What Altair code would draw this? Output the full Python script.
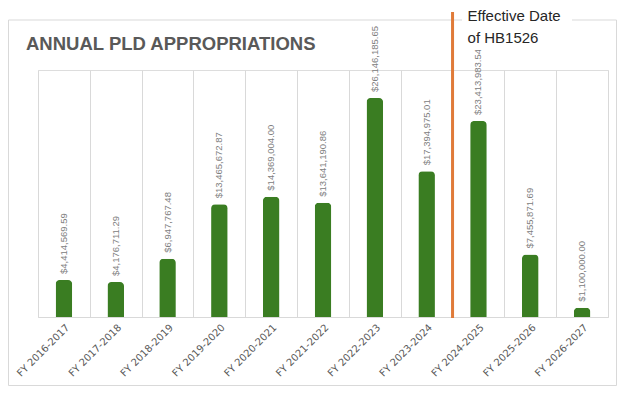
import altair as alt
import pandas as pd

categories = ["FY 2016-2017", "FY 2017-2018", "FY 2018-2019", "FY 2019-2020",
              "FY 2020-2021", "FY 2021-2022", "FY 2022-2023", "FY 2023-2024",
              "FY 2024-2025", "FY 2025-2026", "FY 2026-2027"]
amounts = [4414569.59, 4176711.29, 6947767.48, 13465672.87, 14369004.00,
           13641190.86, 26146185.65, 17394975.01, 23413983.54, 7455871.69,
           1100000.00]
title_text = "ANNUAL PLD APPROPRIATIONS"
marker_category = "FY 2024-2025"
marker_lines = ["Effective Date", "of HB1526"]

df = pd.DataFrame({"fy": categories, "amount": amounts})

xscale = alt.Scale(domain=categories, paddingInner=0, paddingOuter=0)
yscale = alt.Scale(domain=[0, 29500000], nice=False)

xenc = alt.X("fy:N", scale=xscale, sort=categories,
             axis=alt.Axis(title=None, ticks=False, grid=True, tickBand="extent",
                           gridColor="#d9d9d9", gridWidth=1,
                           domainColor="#d9d9d9", labelAngle=-45,
                           labelColor="#595959", labelFont="DejaVu Sans",
                           labelFontSize=10, labelPadding=5))

one = pd.DataFrame({"k": [0]})

border = alt.Chart(one).mark_rect(fill=None, stroke="#d9d9d9", strokeWidth=1).encode(
    x=alt.value(-29.5), x2=alt.value(578.5), y=alt.value(-50), y2=alt.value(315.5))

bars = alt.Chart(df).mark_bar(color="#3A7D22", cornerRadiusTopLeft=4,
                              cornerRadiusTopRight=4,
                              width=alt.RelativeBandSize(0.32)).encode(
    x=xenc,
    y=alt.Y("amount:Q", scale=yscale, axis=None),
)

labels = alt.Chart(df).transform_calculate(
    lab="'$' + format(datum.amount, ',.2f')"
).mark_text(angle=270, align="left", baseline="middle", dx=6,
            font="Liberation Sans", fontSize=9.5, color="#808080").encode(
    x=alt.X("fy:N", scale=xscale, sort=categories),
    y=alt.Y("amount:Q", scale=yscale, axis=None),
    text="lab:N",
)

title = alt.Chart(one).mark_text(text=title_text, align="left", baseline="middle",
                                 font="Liberation Sans", fontWeight="bold",
                                 fontSize=18.5, color="#595959").encode(
    x=alt.value(-12), y=alt.value(-26))

white = alt.Chart(one).mark_rect(fill="white").encode(
    x=alt.value(424), x2=alt.value(534), y=alt.value(-62), y2=alt.value(-20))

mk = pd.DataFrame({"fy": [marker_category]})
rule = alt.Chart(mk).mark_rule(color="#E07B39", strokeWidth=3).encode(
    x=alt.X("fy:N", scale=xscale, sort=categories, bandPosition=0),
    y=alt.value(-58), y2=alt.value(248),
)

ann = pd.DataFrame({"fy": [marker_category] * 2, "line": marker_lines, "row": [0, 1]})
ann_text = alt.Chart(ann).mark_text(align="left", baseline="middle", dx=15,
                                    font="Liberation Sans", fontSize=15,
                                    color="#262626").encode(
    x=alt.X("fy:N", scale=xscale, sort=categories, bandPosition=0),
    y=alt.Y("row:Q", scale=alt.Scale(domain=[0, 1], range=[-54, -32]), axis=None),
    text="line:N",
)

chart = alt.layer(border, bars, labels, title, white, rule, ann_text).properties(
    width=570, height=247,
    padding={"left": 30, "right": 9, "top": 62, "bottom": 69},
    autosize=alt.AutoSizeParams(type="none"),
).resolve_scale(y="independent").configure_view(stroke=None).configure(background="white")

chart.save("out.html", embed_options={"renderer": "svg", "actions": False})
